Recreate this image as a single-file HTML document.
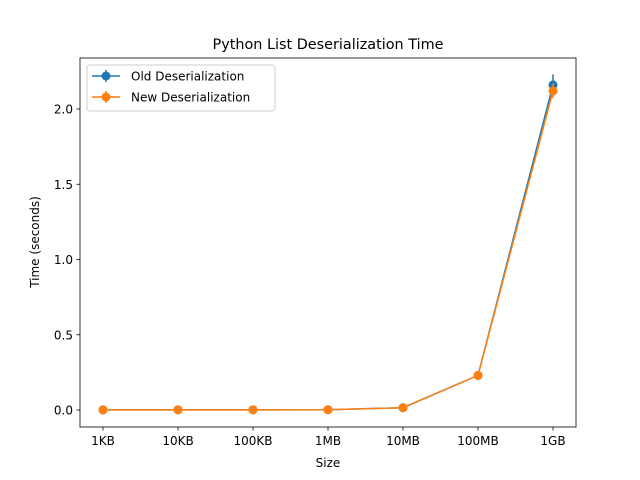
<!DOCTYPE html>
<html><head><meta charset="utf-8"><style>body{margin:0;background:#fff}svg{display:block;font-family:"DejaVu Sans","Liberation Sans",sans-serif}</style></head>
<body>
<svg id="chart" width="640" height="480">
<rect width="640" height="480" fill="#fff"/>
<text x="328" y="49" font-size="14.4" text-anchor="middle">Python List Deserialization Time</text>
<g id="plot"></g>
<rect x="80" y="58" width="496" height="369" fill="none" stroke="#000" stroke-width="0.8"/>
<text x="328" y="467" font-size="12" text-anchor="middle">Size</text>
<text transform="translate(39,242) rotate(-90)" font-size="12" text-anchor="middle">Time (seconds)</text>
<g>
<rect x="87" y="65" width="188" height="46" fill="#fff" fill-opacity="0.8" stroke="#ccc" rx="3"/>
<g><line x1="92" y1="76" x2="120" y2="76" stroke="#1f77b4" stroke-width="1.5"/><line x1="106" y1="70" x2="106" y2="82" stroke="#1f77b4" stroke-width="1.5"/><circle cx="106" cy="76" r="4.5" fill="#1f77b4"/><text x="131" y="80.5" font-size="12">Old Deserialization</text></g>
<g><line x1="92" y1="97" x2="120" y2="97" stroke="#ff7f0e" stroke-width="1.5"/><line x1="106" y1="91" x2="106" y2="103" stroke="#ff7f0e" stroke-width="1.5"/><circle cx="106" cy="97" r="4.5" fill="#ff7f0e"/><text x="131" y="101.5" font-size="12">New Deserialization</text></g>
</g>
</svg>
<script>
const categories=["1KB","10KB","100KB","1MB","10MB","100MB","1GB"];
const oldValues=[0.0005,0.001,0.001,0.002,0.015,0.23,2.16];
const oldErrors=[0,0,0,0,0.005,0.01,0.07];
const newValues=[0.0005,0.001,0.001,0.002,0.015,0.23,2.12];
const newErrors=[0,0,0,0,0.005,0.01,0.05];
const yTicks=[0,0.5,1.0,1.5,2.0];
const NS="http://www.w3.org/2000/svg";
const svg=document.getElementById('chart');const plot=document.getElementById('plot');
const xs=i=>103+i*75;const ys=v=>410-v*150.5;
function mk(t,a,p){const e=document.createElementNS(NS,t);for(const k in a)e.setAttribute(k,a[k]);(p||svg).appendChild(e);return e;}
categories.forEach((c,i)=>{const g=mk('g',{});


mk('line',{x1:xs(i),x2:xs(i),y1:427,y2:430.5,stroke:'#000','stroke-width':0.8},g);
const t=mk('text',{x:xs(i),y:445,'font-size':12,'text-anchor':'middle'},g);t.textContent=c;});
yTicks.forEach(v=>{const g=mk('g',{});


mk('line',{x1:76.5,x2:80,y1:ys(v),y2:ys(v),stroke:'#000','stroke-width':0.8},g);
const t=mk('text',{x:73,y:ys(v)+4.5,'font-size':12,'text-anchor':'end'},g);t.textContent=v.toFixed(1);});
function series(vals,errs,col,name){const g=mk('g',{},plot);


mk('polyline',{points:vals.map((v,i)=>xs(i)+','+ys(v)).join(' '),fill:'none',stroke:col,'stroke-width':1.5},g);
vals.forEach((v,i)=>{mk('line',{x1:xs(i),x2:xs(i),y1:ys(v-errs[i]),y2:ys(v+errs[i]),stroke:col,'stroke-width':1.5},g);
const c=mk('circle',{cx:xs(i),cy:ys(v),r:4.5,fill:col},g);

});}
series(oldValues,oldErrors,'#1f77b4','old-deserialization-series');
series(newValues,newErrors,'#ff7f0e','new-deserialization-series');
</script>
</body></html>
